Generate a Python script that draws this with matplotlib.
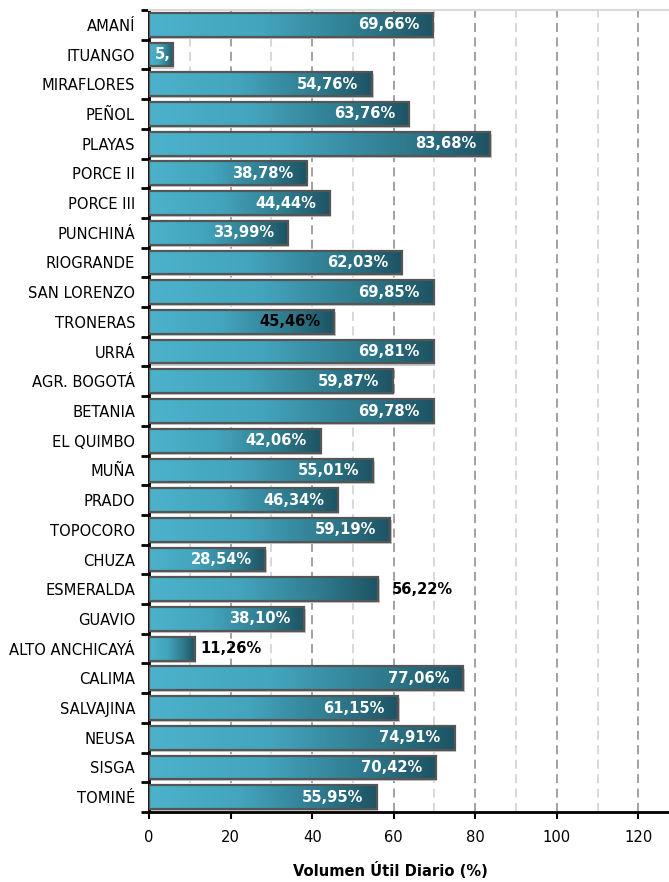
import matplotlib
matplotlib.use("Agg")
import matplotlib.pyplot as plt
import numpy as np
from matplotlib import font_manager
from matplotlib.colors import LinearSegmentedColormap
from matplotlib.ticker import MultipleLocator, FixedLocator

embalses = ["AMANÍ", "ITUANGO", "MIRAFLORES", "PEÑOL", "PLAYAS", "PORCE II",
            "PORCE III", "PUNCHINÁ", "RIOGRANDE", "SAN LORENZO", "TRONERAS",
            "URRÁ", "AGR. BOGOTÁ", "BETANIA", "EL QUIMBO", "MUÑA", "PRADO",
            "TOPOCORO", "CHUZA", "ESMERALDA", "GUAVIO", "ALTO ANCHICAYÁ",
            "CALIMA", "SALVAJINA", "NEUSA", "SISGA", "TOMINÉ"]
volumen = [69.66, 5.9, 54.76, 63.76, 83.68, 38.78, 44.44, 33.99, 62.03, 69.85,
           45.46, 69.81, 59.87, 69.78, 42.06, 55.01, 46.34, 59.19, 28.54, 56.22,
           38.10, 11.26, 77.06, 61.15, 74.91, 70.42, 55.95]
etiquetas = ["69,66%", "5,", "54,76%", "63,76%", "83,68%", "38,78%", "44,44%",
             "33,99%", "62,03%", "69,85%", "45,46%", "69,81%", "59,87%", "69,78%",
             "42,06%", "55,01%", "46,34%", "59,19%", "28,54%", "56,22%", "38,10%",
             "11,26%", "77,06%", "61,15%", "74,91%", "70,42%", "55,95%"]
x_ticks = [0, 20, 40, 60, 80, 100, 120]

# labels placed outside the bar / drawn in black
fuera = {"ESMERALDA": 10, "ALTO ANCHICAYÁ": 4}
negras = {"TRONERAS"}

# narrow font if there is one, else condensed DejaVu
fonts = font_manager.fontManager.ttflist
names = {f.name for f in fonts}
if "Liberation Sans Narrow" in names:
    plt.rcParams["font.family"] = ["Liberation Sans Narrow", "DejaVu Sans"]
    fs = 12.5
else:
    plt.rcParams["font.family"] = ["DejaVu Sans"]
    plt.rcParams["font.stretch"] = "condensed"
    fs = 11.8

W, H = 669, 882
fig = plt.figure(figsize=(W / 100, H / 100), dpi=100)
left, right, top, bottom = 149, 669, 10, 812
ax = fig.add_axes([left / W, 1 - bottom / H, (right - left) / W, (bottom - top) / H])

cmap = LinearSegmentedColormap.from_list(
    "teal", [(0.0, "#4cb2cb"), (0.4, "#43a4bd"), (0.75, "#2f7a8d"), (1.0, "#1d5363")])
grad = np.linspace(0, 1, 256).reshape(1, -1)

n = len(embalses)
y = np.arange(n)
h = 0.8

# shadow
ax.barh(y + 0.07, volumen, height=h, left=0.3, color="#c8c8c8", zorder=2)
for yi, v in zip(y, volumen):
    ax.imshow(grad, extent=[0, v, yi + h / 2, yi - h / 2], aspect="auto",
              cmap=cmap, zorder=3, interpolation="bilinear")
ax.barh(y, volumen, height=h, fill=False, edgecolor="#555555", linewidth=1.6, zorder=4)

for yi, v, name, lab in zip(y, volumen, embalses, etiquetas):
    if name in fuera:
        ax.annotate(lab, (v, yi), xytext=(fuera[name], 0), textcoords="offset points",
                    ha="left", va="center", fontsize=fs, fontweight="bold",
                    color="black", zorder=5)
    else:
        off = -2 if v < 10 else -10
        color = "black" if name in negras else "white"
        ax.annotate(lab, (v, yi), xytext=(off, 0), textcoords="offset points",
                    ha="right", va="center", fontsize=fs, fontweight="bold",
                    color=color, zorder=5)

ax.set_xlim(0, 127.5)
ax.set_ylim(n - 0.5, -0.5)

ax.xaxis.set_major_locator(FixedLocator(x_ticks))
ax.xaxis.set_minor_locator(MultipleLocator(10))
ax.grid(axis="x", which="major", color="#9a9a9a", linestyle=(0, (5, 3)), linewidth=1.3, zorder=0)
ax.grid(axis="x", which="minor", color="#d6d6d6", linestyle=(0, (5, 3)), linewidth=1.3, zorder=0)
ax.tick_params(axis="x", which="major", direction="out", length=5, width=1.5,
               labelsize=fs, pad=8)
ax.tick_params(axis="x", which="minor", length=0)

ax.yaxis.set_major_locator(FixedLocator(np.arange(-0.5, n, 1.0)))
ax.yaxis.set_minor_locator(FixedLocator(y))
ax.yaxis.set_major_formatter(plt.NullFormatter())
ax.set_yticks(y, labels=embalses, minor=True)
ax.tick_params(axis="y", which="major", direction="out", length=6, width=2)
ax.tick_params(axis="y", which="minor", length=0, labelsize=fs, pad=10)

ax.spines["left"].set_linewidth(2)
ax.spines["bottom"].set_linewidth(2)
ax.spines["right"].set_visible(False)
ax.spines["top"].set_color("#d9d9d9")
ax.spines["top"].set_linewidth(1.5)

ax.set_xlabel("Volumen Útil Diario (%)", fontsize=fs, fontweight="bold")
ax.xaxis.set_label_coords((390 - left) / (right - left), -0.062)

fig.savefig("out.png", dpi=100)
